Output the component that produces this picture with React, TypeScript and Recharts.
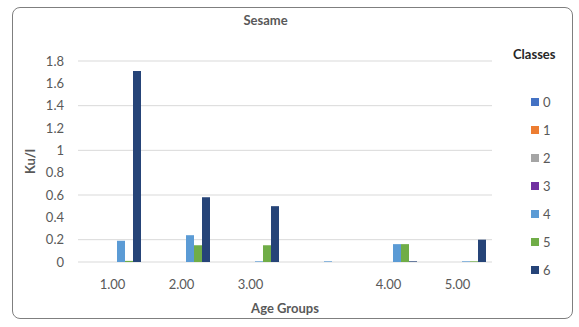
import React from 'react';
import { BarChart, Bar, XAxis, YAxis, CartesianGrid } from 'recharts';

// age group labels (4th group has no label in the original)
const ageGroups = ['1.00', '2.00', '3.00', '', '4.00', '5.00'];

const class0 = [0, 0, 0, 0, 0, 0];
const class1 = [0, 0, 0, 0, 0, 0];
const class2 = [0, 0, 0, 0, 0, 0];
const class3 = [0, 0, 0, 0, 0, 0];
const class4 = [0.19, 0.24, 0.006, 0.006, 0.16, 0.006];
const class5 = [0.01, 0.15, 0.15, 0, 0.16, 0.006];
const class6 = [1.71, 0.58, 0.5, 0, 0.006, 0.2];

const yTicks = [0, 0.2, 0.4, 0.6, 0.8, 1, 1.2, 1.4, 1.6, 1.8];

const classNames = ['0', '1', '2', '3', '4', '5', '6'];
const classColors = ['#4472C4', '#ED7D31', '#A5A5A5', '#7030A0', '#5B9BD5', '#70AD47', '#264478'];
const classValues = [class0, class1, class2, class3, class4, class5, class6];

const data = ageGroups.map((g, i) => {
  const row: Record<string, string | number> = { group: g };
  classNames.forEach((c, k) => {
    row['c' + c] = classValues[k][i];
  });
  return row;
});

const font = 'Lato, "Open Sans", sans-serif';

// legend drawn outside the chart so it doesn't shrink the plot area
function ClassesLegend() {
  return (
    <div style={{ position: 'absolute', left: 513, top: 46, width: 60, fontFamily: font }}>
      <div style={{ fontWeight: 700, fontSize: 13, color: '#262626', marginBottom: 26 }}>Classes</div>
      {classNames.map((c, k) => (
        <div key={c} style={{ display: 'flex', alignItems: 'center', height: 28, paddingLeft: 18 }}>
          <span style={{ width: 8, height: 8, background: classColors[k], display: 'inline-block', marginRight: 4 }} />
          <span style={{ fontSize: 13, color: '#595959' }}>{c}</span>
        </div>
      ))}
    </div>
  );
}

export default function App() {
  return (
    <div style={{ position: 'absolute', left: 0, top: 0, width: 579, height: 327, background: '#fff' }}>
      <div
        style={{
          position: 'absolute',
          left: 12,
          top: 7,
          width: 559,
          height: 310,
          border: '1px solid #7f7f7f',
          borderRadius: 8,
        }}
      />
      <div
        style={{
          position: 'absolute',
          left: 0,
          width: 579,
          top: 12,
          textAlign: 'center',
          fontFamily: font,
          fontWeight: 700,
          fontSize: 13,
          color: '#595959',
        }}
      >
        <span style={{ position: 'relative', left: -24 }}>Sesame</span>
      </div>
      <BarChart
        width={579}
        height={327}
        data={data}
        margin={{ top: 61, right: 87, bottom: 5, left: 18 }}
        barGap={0}
        barSize={8}
        style={{ position: 'absolute', left: 0, top: 0 }}
      >
        <CartesianGrid vertical={false} stroke="#d9d9d9" />
        <XAxis
          dataKey="group"
          height={60}
          axisLine={false}
          tickLine={false}
          tickMargin={12}
          tick={{ fontSize: 13, fill: '#595959', fontFamily: font }}
          label={{ value: 'Age Groups', position: 'insideBottom', offset: 9, fontSize: 13, fontWeight: 700, fill: '#595959', fontFamily: font }}
        />
        <YAxis
          width={60}
          domain={[0, 1.8]}
          ticks={yTicks}
          axisLine={false}
          tickLine={false}
          tickMargin={8}
          tick={{ fontSize: 13, fill: '#595959', fontFamily: font }}
          label={{ value: 'Ku/l', angle: -90, position: 'center', dx: -18, fontSize: 13, fontWeight: 700, fill: '#595959', fontFamily: font }}
        />
        {classNames.map((c, k) => (
          <Bar key={c} dataKey={'c' + c} name={c} fill={classColors[k]} isAnimationActive={false} />
        ))}
      </BarChart>
      <ClassesLegend />
    </div>
  );
}
